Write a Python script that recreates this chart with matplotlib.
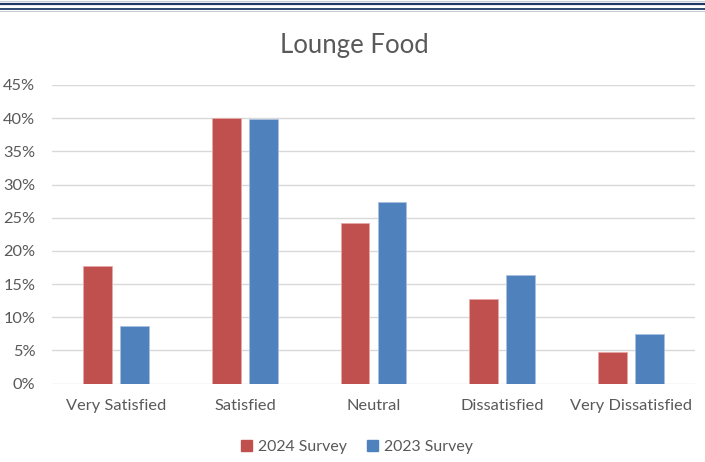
import numpy as np
import matplotlib.pyplot as plt
from matplotlib.lines import Line2D
from matplotlib.patches import Patch

plt.rcParams['font.family'] = ['Lato', 'DejaVu Sans']

categories = ["Very Satisfied", "Satisfied", "Neutral", "Dissatisfied", "Very Dissatisfied"]
survey_2024 = [17.7, 40.1, 24.2, 12.8, 4.8]
survey_2023 = [8.6, 39.8, 27.4, 16.4, 7.4]
series_labels = ["2024 Survey", "2023 Survey"]
y_ticks = [0, 5, 10, 15, 20, 25, 30, 35, 40, 45]

red = "#C0504D"
blue = "#4F81BD"
text_grey = "#595959"

fig = plt.figure(figsize=(7.05, 4.62), dpi=100)
ax = fig.add_axes([52 / 705, 1 - 383.5 / 462, (695 - 52) / 705, (383.5 - 85) / 462])

x = np.arange(len(categories))
width = 0.225
offset = 0.144
ax.bar(x - offset, survey_2024, width, color=red, edgecolor="#E8A9A8", linewidth=0.6, zorder=3)
ax.bar(x + offset, survey_2023, width, color=blue, edgecolor="#A9C1E0", linewidth=0.6, zorder=3)

ax.set_xlim(-0.5, len(categories) - 0.5)
ax.set_ylim(0, 45)
ax.set_yticks(y_ticks)
ax.set_yticklabels([f"{t}%" for t in y_ticks])
ax.set_xticks(x)
ax.set_xticklabels(categories)
ax.tick_params(axis="both", length=0, labelsize=11.8, colors=text_grey)
ax.tick_params(axis="y", pad=12)
ax.tick_params(axis="x", pad=11)
ax.grid(axis="y", color="#D9D9D9", linewidth=1.0, zorder=0)
for s in ax.spines.values():
    s.set_visible(False)

fig.text(354 / 705, 1 - 45 / 462, "Lounge Food", ha="center", va="center",
         fontsize=18.5, color=text_grey)

handles = [Patch(facecolor=red, edgecolor=red), Patch(facecolor=blue, edgecolor=blue)]
fig.legend(handles, series_labels, loc="center", bbox_to_anchor=(357 / 705, 1 - 447 / 462),
           ncol=2, frameon=False, fontsize=11.4, labelcolor=text_grey,
           handlelength=0.7, handleheight=0.7, handletextpad=0.35, columnspacing=1.3)

# double rule across the top
for yp, lw in [(3.5, 2.2), (8.5, 1.8)]:
    fig.add_artist(Line2D([0, 1], [1 - yp / 462] * 2, color="#1F3864", linewidth=lw * 0.72,
                          transform=fig.transFigure))
for yp in [1.2, 10.5]:
    fig.add_artist(Line2D([0, 1], [1 - yp / 462] * 2, color="#C8CCD4", linewidth=0.8,
                          transform=fig.transFigure))

fig.savefig("out.png", dpi=100)
